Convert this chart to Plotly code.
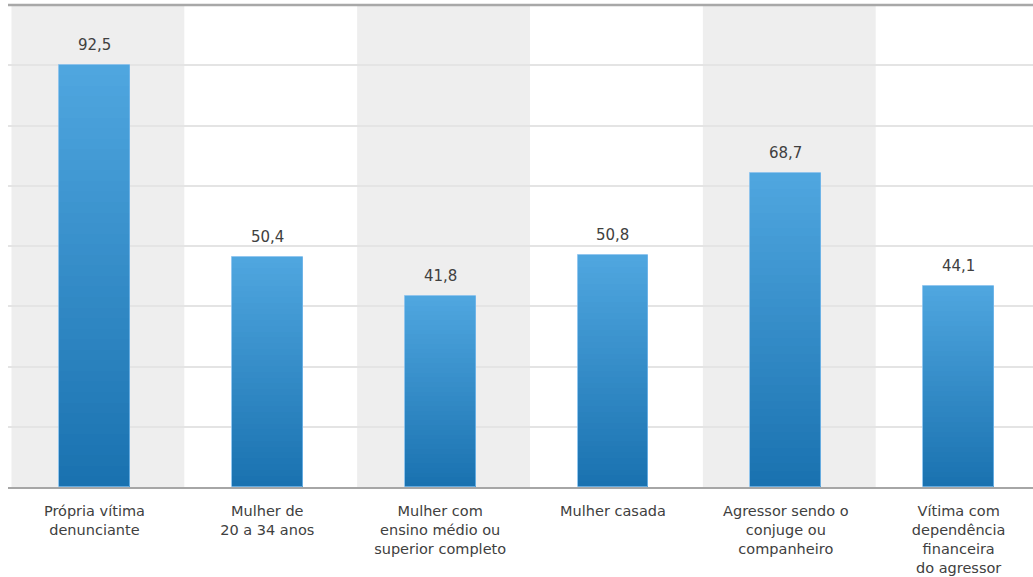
import plotly.graph_objects as go

categories = [
    "Própria vítima<br>denunciante",
    "Mulher de<br>20 a 34 anos",
    "Mulher com<br>ensino médio ou<br>superior completo",
    "Mulher casada",
    "Agressor sendo o<br>conjuge ou<br>companheiro",
    "Vítima com<br>dependência<br>financeira<br>do agressor",
]
values = [92.5, 50.4, 41.8, 50.8, 68.7, 44.1]
labels = [f"{v:.1f}".replace(".", ",") for v in values]

top_rgb = (79, 166, 223)
bottom_rgb = (26, 114, 176)
N = 40
bar_width = 0.41

fig = go.Figure()
for k in range(N):
    t = k / (N - 1)
    c = tuple(round(top_rgb[i] + (bottom_rgb[i] - top_rgb[i]) * t) for i in range(3))
    frac = 1 - k / N
    fig.add_trace(go.Bar(
        x=categories,
        y=[v * frac for v in values],
        marker=dict(color=f"rgb{c}", line=dict(width=0)),
        width=bar_width,
        hoverinfo="skip",
        showlegend=False,
    ))
# outline
fig.add_trace(go.Bar(
    x=categories, y=values, width=bar_width,
    marker=dict(color="rgba(0,0,0,0)", line=dict(width=1, color="rgba(120,185,235,0.8)")),
    hoverinfo="skip", showlegend=False,
))

for cat, v, lab in zip(categories, values, labels):
    fig.add_annotation(x=cat, y=v, text=lab, showarrow=False, yanchor="bottom",
                       yshift=9, font=dict(family="DejaVu Sans", size=15, color="#404040"))

shapes = []
for i in range(0, len(categories), 2):
    shapes.append(dict(type="rect", xref="x", yref="paper", x0=i - 0.48, x1=i + 0.52,
                       y0=0, y1=1, fillcolor="#eeeeee", line=dict(width=0), layer="below"))
shapes.append(dict(type="line", xref="paper", yref="paper", x0=0, x1=1, y0=1, y1=1,
                   line=dict(color="#a8a8a8", width=2.5), layer="above"))

fig.update_layout(
    width=1033, height=577,
    margin=dict(l=8, r=0, t=5, b=90, autoexpand=False),
    barmode="overlay",
    bargap=0,
    plot_bgcolor="white", paper_bgcolor="white",
    shapes=shapes,
    font=dict(family="DejaVu Sans", size=15, color="#404040"),
    xaxis=dict(
        type="category", range=[-0.5, 5.43], automargin=False,
        showline=True, linecolor="#a6a6a6", linewidth=2,
        ticks="", showgrid=False, ticklabelstandoff=10,
        tickfont=dict(family="DejaVu Sans", size=14.5, color="#404040"),
    ),
    yaxis=dict(
        range=[0, 105.6], tick0=0, dtick=13.2, showticklabels=False, automargin=False,
        showgrid=True, gridcolor="#e4e4e4", gridwidth=1.5, zeroline=False,
    ),
)

fig.write_html("out.html")
